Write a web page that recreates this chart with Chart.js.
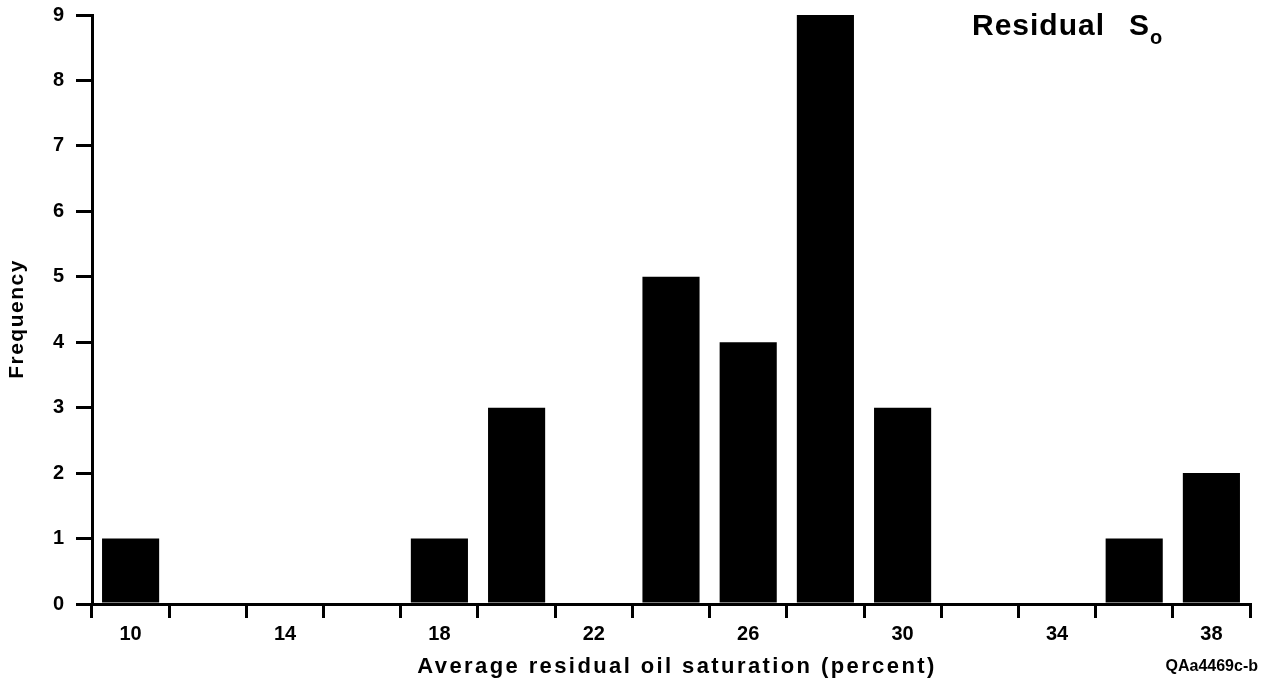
<!DOCTYPE html>
<html>
<head>
<meta charset="utf-8">
<script src="https://cdn.jsdelivr.net/npm/chart.js@4"></script>
<style>
  html, body { margin: 0; padding: 0; background: #fff; }
  #wrap { width: 1271px; height: 687px; }
</style>
</head>
<body>
<div id="wrap"><canvas id="myChart" width="1271" height="687"></canvas></div>
<script>
'use strict';

//***************** Data *****************
// bin centres (2 percent wide bins)
let binCenters = ['10', '12', '14', '16', '18', '20', '22', '24', '26', '28', '30', '32', '34', '36', '38'];
let frequencies = [1, 0, 0, 0, 1, 3, 0, 5, 4, 9, 3, 0, 0, 1, 2];
let xTickLabels = ['10', '14', '18', '22', '26', '30', '34', '38'];
let yTickValues = [0, 1, 2, 3, 4, 5, 6, 7, 8, 9];

let chartTitle = 'Residual';
let chartTitleS = 'S';
let chartTitleSub = 'o';
let xTitle = 'Average residual oil saturation (percent)';
let yTitle = 'Frequency';
let figureId = 'QAa4469c-b';

let fontFamily = "'Liberation Sans', Arial, Helvetica, sans-serif";

//***************** Text plugin *****************
let textPlugin = {
  id: 'textPlugin',
  afterDraw(chart) {
    let c = chart.ctx;
    c.save();
    c.fillStyle = '#000';

    // title top right with subscript
    c.font = 'bold 30px ' + fontFamily;
    c.letterSpacing = '1px';
    c.textAlign = 'left';
    c.textBaseline = 'alphabetic';
    c.fillText(chartTitle, 972, 35);
    c.fillText(chartTitleS, 1129, 35);
    c.font = 'bold 20px ' + fontFamily;
    c.fillText(chartTitleSub, 1150, 44);

    // x axis title
    c.font = 'bold 22px ' + fontFamily;
    c.letterSpacing = '2.4px';
    c.textAlign = 'center';
    c.fillText(xTitle, 677, 673);

    // figure id
    c.font = 'bold 16px ' + fontFamily;
    c.letterSpacing = '0px';
    c.textAlign = 'right';
    c.fillText(figureId, 1258, 671);

    // y axis title
    c.translate(23, 319);
    c.rotate(-Math.PI / 2);
    c.font = 'bold 21px ' + fontFamily;
    c.letterSpacing = '1.5px';
    c.textAlign = 'center';
    c.fillText(yTitle, 0, 0);
    c.restore();
  }
};

//***************** Chart *****************
let ctx = document.getElementById('myChart');

let myChartObj = {
  type: 'bar',
  data: {
    labels: binCenters,
    datasets: [{
      data: frequencies,
      backgroundColor: '#000',
      borderWidth: 0,
      barPercentage: 0.74,
      categoryPercentage: 1
    }]
  },
  options: {
    responsive: false,
    animation: false,
    layout: {
      padding: { top: 15, right: 21, left: 0, bottom: 0 }
    },
    plugins: {
      legend: { display: false },
      tooltip: { enabled: false }
    },
    scales: {
      x: {
        offset: true,
        grid: {
          offset: true,
          drawOnChartArea: false,
          drawTicks: true,
          tickLength: 14,
          lineWidth: 3,
          color: '#000'
        },
        border: { display: true, width: 3, color: '#000' },
        ticks: {
          autoSkip: false,
          maxRotation: 0,
          padding: 4,
          color: '#000',
          font: { family: fontFamily, size: 20, weight: 'bold' },
          callback: function (value, index) {
            let lbl = binCenters[index];
            return xTickLabels.includes(lbl) ? lbl : '';
          }
        },
        afterFit: function (scale) { scale.height = 83; }
      },
      y: {
        min: yTickValues[0],
        max: yTickValues[yTickValues.length - 1],
        grid: {
          drawOnChartArea: false,
          drawTicks: true,
          tickLength: 16,
          lineWidth: 3,
          color: '#000'
        },
        border: { display: true, width: 3, color: '#000' },
        ticks: {
          stepSize: 1,
          padding: 12,
          color: '#000',
          font: { family: fontFamily, size: 20, weight: 'bold' }
        },
        afterFit: function (scale) {
          scale.width = 92;
          scale.paddingTop = 0;
        }
      }
    }
  },
  plugins: [textPlugin]
};

new Chart(ctx, myChartObj);
</script>
</body>
</html>
